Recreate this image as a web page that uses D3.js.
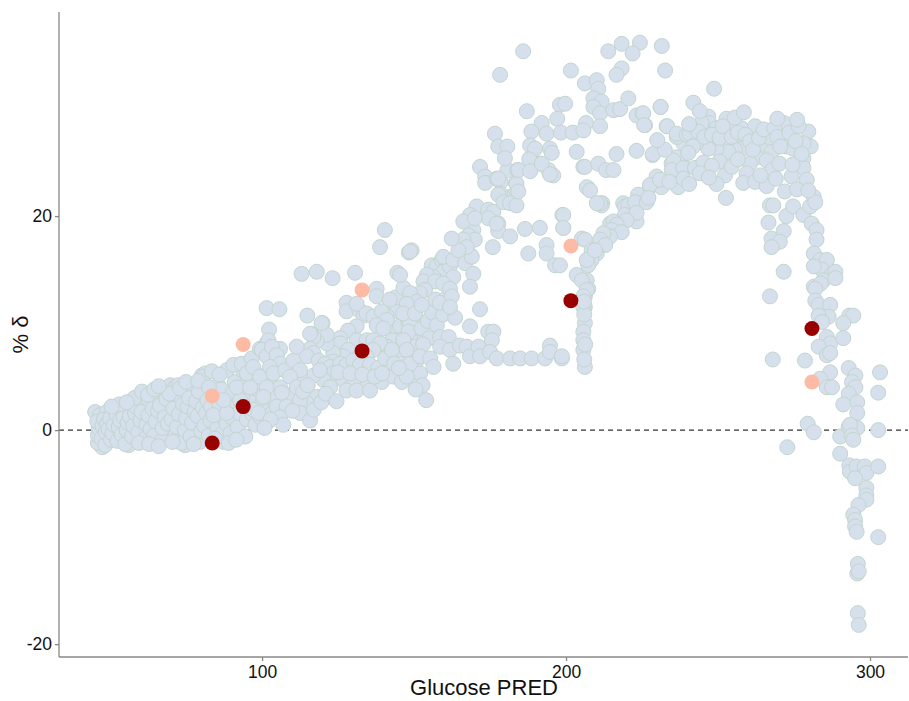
<!DOCTYPE html>
<html lang="en">
<head>
  <meta charset="UTF-8" />
  <title>Glucose PRED vs % delta</title>
  <script src="https://d3js.org/d3.v7.min.js"></script>
  <style>
    body { margin: 0; background: white; font-family: "Liberation Sans", Arial, sans-serif; }
    .axis text { font-size: 17.5px; fill: #111; }
    .axis path, .axis line { stroke: #888; stroke-width: 1.3px; }
  </style>
</head>
<body>
  <svg width="909" height="701"></svg>

  <script>
    // [Glucose PRED, % delta]
    const lowBand = [
      [45.1,1.7],[46.7,1.4],[48.9,1.7],[51.1,1.9],[56.0,2.0],[58.8,1.7],
      [46.8,-1.1],[47.4,-1.6],[56.1,-1.4],[69.8,-0.6],[74.7,-1.4],[79.6,-1.1],[87.3,-1.1],
      [63.2,2.8],[65.4,3.0],[67.6,2.6],[61.0,2.5],[73.6,2.8],[77.4,3.1],
      [69.8,4.2],[71.4,4.0],[72.5,4.2],[80.2,5.1],[81.3,5.3],[76.9,3.9],[85.6,4.2],
      [46,-1.2],[46,-0.5],[46.3,0.2],[45.8,0.8],[47.2,-0.8],[47.5,0.4],[48,1.0],[48.4,-1.4],
      [48.6,-0.2],[49,0.6],[49.5,0.1],[50,1.1],[50.3,-0.9],[50.8,-0.3],[51.2,0.5],[52,1.5],
      [52.4,-1.0],[52.8,0.3],[53.3,0.9],[53.8,-0.4],[54.5,1.2],[55,-1.3],[55.4,0.0],[55.8,0.7],
      [56.5,1.3],[57.2,-0.6],[57.6,0.4],[58.2,1.6],[58.5,2.2],[59.3,-0.2],[60,0.9],[60.4,1.7],
      [61.5,-0.8],[62,0.5],[62.6,1.4],[63.3,0.1],[64,2.0],[64.6,-0.5],[65,0.8],[65.8,1.8],
      [66.4,2.3],[67,-1.0],[67.3,0.2],[68,1.2],[68.5,2.9],[69,0.6],[69.5,3.4],[70.3,1.0],
      [70.8,2.0],[71.5,-0.4],[72,0.3],[72.6,1.5],[73,3.9],[73.4,-1.2],[74,2.4],[74.6,0.0],
      [75,1.1],[75.5,2.2],[76,3.0],[76.5,-0.6],[77,0.7],[77.8,1.7],[78.3,2.7],[78.8,1.3],
      [79.2,3.6],[80,-0.1],[80.5,2.1],[81,0.4],[81.6,1.6],[82,2.8],[82.5,-0.5],[83,0.9],
      [83.2,2.2],[84.5,1.4],[85,3.2],[85.3,0.2],[86,2.4],[86.6,3.8],[87,-0.3],[87.8,1.0],
      [88.3,0.6],[88.8,1.8],[89.2,2.9],[89.6,-0.3],[90,1.2],[90.4,3.5],[91,4.5],[91.5,2.3],
      [92,0.3],[92.5,1.6],[93,2.6],[93.5,4.0],[94.5,-0.6],[95,1.0],[95.3,2.1],[96,3.0],
      [96.8,1.5],[97.4,4.6],[97.8,0.5],[98.2,2.9],[98.6,3.8],[99,1.9],[99.5,1.2],[100,2.5],
      [100.5,4.3],[101,5.1],[101.5,3.4],[102,0.8],[102.4,2.0],[103,3.0],[103.4,1.6],[104,4.0],
      [104.6,5.6],[105,7.2],[84,1.4],[88.4,1.6],[87.3,2.8],[92.8,2.8],[91.7,4.0],[96.1,4.0],
      [97.1,1.9],[98.8,1.6],[93.9,5.5],[88.4,5.6],[90.6,6.1],[93.3,6.2],[96.6,6.7],[99.3,7.6],
      [101.5,8.1],[95,5.3],[97.1,5.9],[99.3,5.0],[80.7,5.0],
      [58,3.0],[60.5,3.6],[62.5,3.3],[64.5,3.8],[66,4.1],[59.5,-1.2],[62.8,-1.3],[66,-1.5],
      [70.5,-1.1],[77.5,-1.3],[84.5,-0.8],[89,-1.2],[91.5,-0.9],[53,2.4],[50.5,2.2],[55.5,2.6],
      [75,4.5],[79,4.6],[83.5,5.5],[86,5.2],[82.5,4.0]
    ];

    const midBand = [
      [138.8,17.1],[149.2,16.8],[148.3,16.6],[113.0,14.6],[118.0,14.8],[123.2,14.2],[130.6,14.7],
      [144.5,14.7],[137.7,13.2],[137.7,12.5],[127.8,11.9],[127.8,11.1],[132.0,11.2],[133.5,10.7],
      [101.5,11.4],[105.7,11.3],[114.9,10.7],[119.9,10.0],[102.3,9.4],[102.1,8.4],[99.9,7.5],
      [105.9,7.6],[116.3,9.0],[148.1,12.0],[145.4,11.5],[143.8,11.1],[141.0,10.7],[139.9,10.1],
      [142.7,9.5],[145.4,9.7],[148.1,10.1],[149.8,9.0],[150.3,10.6],[148.7,8.7],[145.4,8.4],
      [142.7,8.4],[141.0,7.8],[145.4,7.5],[149.8,7.8],[150.9,6.5],[147.6,6.2],[131.1,11.8],
      [134.4,10.9],[136.6,10.6],[139.4,11.1],[141.0,10.3],[137.7,9.8],[139.9,9.5],[131.1,9.7],
      [128.3,9.3],[125.7,8.6],[125.7,8.1],[131.1,8.4],[134.4,8.4],[136.6,8.4],[138.8,8.1],
      [136.6,7.5],[134.4,6.9],[131.1,7.0],[128.3,7.5],[126.7,6.9],[123.4,7.2],[123.4,6.4],
      [121.3,8.1],[121.3,8.9],[118.0,8.3],[116.9,8.7],[115.8,7.6],[116.9,7.2],[114.7,6.9],
      [118.6,6.5],[120.7,6.2],[122.4,5.9],[125.7,6.2],[127.8,6.1],[130.0,6.5],[132.2,6.1],
      [135.5,6.1],[138.2,5.8],[140.5,6.7],[142.7,7.5],[123.4,5.3],[126.7,4.7],[130.0,4.4],
      [134.4,4.0],[139.4,4.5],[143.2,5.0],[148.1,5.0],[150.9,4.7],[120.2,4.7],[116.9,5.1],
      [112.5,5.0],[118.0,3.1],[122.4,4.0],[127.8,3.7],[131.1,3.7],[135.5,3.7],[114.7,2.5],
      [110.3,3.1],[101.5,6.9],[103.2,7.8],[104.8,7.0],[106.0,6.2],[102.6,5.9],[103.7,5.3],
      [107.6,5.6],[110.3,6.5],[112.5,5.6],[109.2,5.0],[105.9,4.0],[103.7,3.1],[109.2,3.3],
      [111.4,4.0],[112.5,2.8],[101.5,4.0],[100.4,3.1],[104.8,2.2],[108.1,2.2],[105.9,1.2],
      [112.5,1.6],[111.4,7.8],[115.8,9.0],[119.6,10.0],[115.8,0.9],[154.0,2.8],[140.4,18.7],
      [107,0.5],[110,1.8],[113.5,3.6],[117,1.9],[119.5,2.6],[121,3.4],[124.5,2.7],[106.5,3.5],
      [102.8,1.0],[100.8,0.2],[115,4.2],[119,5.6],[125,5.4],[129,5.3],[133,5.2],[137,5.0],
      [146,4.5],[152,5.3],[147.6,10.6],[148.7,10.0],[148.2,9.2],[146.5,8.4],[147.6,7.5],
      [148.7,6.2],[147.6,5.0],
      [152.5,9.5],[154.5,10.2],[156,11],[157.5,9.8],[155,8.6],[153,8.0],[157,12.2],[159.5,10.8],
      [160.5,12.3],[163.5,10.5],[158.5,11.9],[144,12.4],[142,12.2],[146.5,13.3],[143.5,6.2],
      [139.5,5.3],[145,5.8],[152.8,4.2],[150.5,3.8]
    ];

    const upperBranch = [
      [155.8,15.4],[157.4,15.3],[159.1,15.9],[160.7,15.6],[159.6,14.8],[161.8,15.3],[162.9,14.3],
      [156.4,14.3],[154.2,14.5],[153.1,13.9],[156.9,13.9],[159.6,13.7],[161.8,13.2],[162.4,12.5],
      [153.6,13.1],[151.9,12.8],[148.7,12.8],[150.9,12.0],[147.6,11.8],[146.4,10.9],[150.3,10.9],
      [152.5,11.7],[145.4,14.5],[159.6,16.2],[162.9,15.9],[168.4,16.4],[166.8,15.6],[169.0,16.2],
      [148.7,16.7],[169.5,18.7],[167.9,18.2],[170.0,17.8],[166.2,17.8],[167.3,17.1],[164.6,16.8],
      [162.4,17.9],[170.6,20.9],[168.4,20.1],[166.2,19.5],[174.4,20.6],[176.1,20.4],[174.4,19.8],
      [177.7,19.3],[177.7,18.6],[181.6,18.1],[175.9,17.1],[169.5,14.6],[168.4,13.4],[161.8,11.5],
      [171.7,11.3],[168.4,9.7],[171.7,24.6],[173.4,23.7],[173.4,23.1],[177.2,23.5],[178.5,23.2],
      [180.7,24.3],[184.0,24.3],[183.5,23.1],[184.0,22.4],[181.6,21.8],[179.4,21.8],[178.3,22.1],
      [188.2,25.4],[191.4,24.9],[194.2,24.3],[195.8,23.8],[186.5,18.8],[191.4,18.9],[199.1,18.9],
      [198.8,20.1],[193.6,17.3],[187.6,16.5],[193.6,16.5],[196.4,15.4],[170.0,19.8],[177.2,19.3],
      [177.7,22.0],[179.4,21.3],[181.6,21.2],[183.7,21.0],[183.7,23.0],[184.3,22.3],[177.7,23.5]
    ];

    const lowRow = [
      [152.0,6.9],[155.3,6.7],[156.4,5.9],[158.6,8.7],[161.4,8.7],[158.6,7.8],[161.8,7.5],
      [162.9,6.2],[165.1,7.9],[167.3,7.8],[168.4,6.9],[171.2,7.8],[171.7,6.9],[174.4,9.2],
      [176.1,9.2],[175.6,8.4],[175.0,7.3],[177.2,6.7],[181.6,6.7],[184.9,6.7],[188.7,6.7],
      [193.1,6.7],[194.7,7.9],[194.7,7.3],[198.6,6.7],[198.6,6.9]
    ];

    const topScatter = [
      [185.9,35.4],[178.3,33.2],[201.6,33.6],[213.9,35.4],[218.3,36.1],[224.3,36.2],[221.9,35.2],
      [231.5,35.9],[232.6,33.6],[206.2,32.4],[210.1,32.7],[210.6,31.9],[218.3,33.8],[216.6,33.2],
      [209.0,31.0],[211.7,30.7],[209.0,30.2],[211.2,29.6],[215.6,29.9],[217.8,30.0],[220.5,31.0],
      [198.0,30.4],[199.7,30.5],[187.1,29.8],[197.1,29.1],[192.0,28.7],[193.6,27.7],[188.6,27.9],
      [198.3,27.8],[202.2,27.8],[206.6,28.7],[211.2,28.4],[223.2,29.4],[225.2,29.6],[226.0,28.5],
      [231.1,30.2],[233.1,28.4],[176.6,27.7],[177.7,26.5],[180.7,26.5],[179.9,25.4],[188.2,26.6],
      [189.8,26.3],[194.7,26.3],[195.3,25.9],[187.9,25.3],[184.3,24.3],[188.2,24.2],[192.0,24.9],
      [194.7,23.9],[205.7,24.6],[207.3,22.6],[206.2,24.6],[210.6,24.9],[213.2,24.3],[215.6,24.3],
      [216.6,25.8],[223.2,26.1],[228.5,25.7],[206.8,22.7],[207.9,22.4],[211.9,21.2],[205.7,28.0],
      [203.5,26.0]
    ];

    const column = [
      [218.8,21.2],[219.9,20.4],[223.2,19.5],[223.7,22.0],[227.6,22.7],[229.8,23.7],[231.4,22.7],
      [234.7,24.9],[236.4,25.5],[238.6,26.8],[239.1,24.5],[236.9,22.7],[236.4,27.4],[216.6,19.2],
      [214.5,19.3],[211.7,21.0],[219.4,20.9],[220.5,21.0],[222.7,21.3],[226.5,21.3],[219.4,20.1],
      [223.2,20.3],[219.9,19.6],[215.6,19.5],[216.7,19.2],[215.0,18.7],[218.3,18.5],[214.5,18.1],
      [212.3,18.4],[211.2,17.8],[212.9,17.3],[209.0,16.8],[210.1,16.5],[208.4,15.9],[207.3,15.4],
      [206.8,14.0],[207.3,13.2],[206.2,12.5],[206.2,11.5],[199.1,20.1],[199.1,18.9],[205.2,17.9],
      [198.0,15.4],[203.5,14.5],[211.2,21.2],[210.1,21.2],[206.2,17.8],[208.4,16.8],[206.8,15.9],
      [209.5,16.8],[205.2,14.0],[206.8,13.1],[205.7,12.5],[205.7,11.5],[206.2,10.0],[205.7,9.2],
      [205.7,8.4],[205.7,7.5],[206.2,5.9],[206.0,6.6],[206.3,8.0],[206.0,10.8],[205.9,12.0]
    ];

    const plateau = [
      [248.7,31.9],[231.1,30.2],[241.9,30.6],[225.4,29.6],[225.7,28.5],[233.3,28.4],[236.4,27.7],
      [239.7,27.6],[240.6,27.7],[246.8,29.3],[247.1,28.7],[244.6,28.7],[249.5,28.2],[252.8,29.1],
      [253.7,28.1],[257.8,28.2],[262.2,28.4],[266.0,27.7],[271.7,28.7],[279.7,27.9],[272.0,27.3],
      [279.7,26.6],[280.5,26.5],[278.1,26.8],[272.5,26.5],[274.7,26.3],[266.9,27.1],[264.3,26.2],
      [267.6,26.0],[262.7,25.5],[266.0,25.2],[267.9,24.3],[270.2,24.9],[274.2,23.7],[278.1,25.4],
      [278.1,24.5],[279.2,23.4],[260.5,24.9],[259.4,24.0],[258.3,23.1],[262.2,23.2],[266.0,22.8],
      [257.2,26.9],[258.3,26.3],[255.6,26.2],[252.3,26.5],[253.4,26.0],[249.5,26.3],[246.2,26.9],
      [246.8,26.3],[242.9,26.8],[241.8,26.5],[240.2,25.9],[235.3,25.2],[234.8,24.3],[238.6,24.5],
      [242.4,24.5],[245.2,25.0],[238.6,23.5],[227.6,22.9],[227.1,21.7],[230.9,23.4],[252.3,23.8],
      [249.5,23.0],[252.6,21.7],[228.6,25.8],[243.5,27.9],[245.5,27.4],[248,27.6],[250.5,27.3],
      [251.5,28.4],[254.5,27.4],[256.5,27.8],[259,27.6],[260.5,27.0],[261.5,26.2],[263.5,27.3],
      [265,28.1],[268.5,28.2],[269.5,27.4],[270.5,26.5],[273.5,27.8],[275.5,27.0],[276.5,28.4],
      [277.5,25.8],[250.5,25.1],[254.5,24.6],[256.5,25.3],[248,24.7],[244,24.0],[247,23.6],
      [264,23.8],[269,23.5],[272,22.3],[276,22.5],[274.5,24.8],[240.5,28.6],[244,29.8],
      [255.5,29.2],[258.5,29.7],[269.5,29.1],[276,29.0],[232.5,26.2],[230.0,27.1],[234.0,23.2],
      [240.5,23.0]
    ];

    const tail = [
      [267.1,21.0],[268.2,21.0],[266.6,19.4],[271.6,18.6],[267.6,17.9],[270.3,17.6],[272.5,20.0],
      [274.7,20.9],[278.1,20.1],[280.3,20.9],[281.5,21.8],[282.0,21.3],[279.7,22.4],[280.8,19.3],
      [282.4,18.7],[282.4,17.8],[281.5,16.5],[283.6,15.9],[285.8,15.9],[284.2,15.0],[281.5,15.3],
      [287.5,14.6],[284.7,14.0],[281.5,13.4],[271.6,14.8],[267.1,12.5],[267.6,17.1],
      [288.6,14.8],[288.6,14.2],[283.8,13.7],[282.0,13.2],[282.0,12.1],[283.1,11.7],[286.9,11.7],
      [286.4,10.6],[283.1,10.7],[284.2,10.1],[293.2,10.7],[294.5,10.7],[291.2,10.0],[285.8,8.7],
      [286.9,8.1],[283.1,7.8],[285.8,7.0],[286.9,7.2],[291.2,8.6],[268.0,6.6],[278.6,6.5],
      [286.9,5.4],[283.6,4.8],[285.8,4.0],[287.5,4.0],[293.0,5.8],[295.2,5.1],[294.1,4.5],
      [295.2,4.0],[293.0,3.4],[295.8,2.6],[291.2,2.4],[295.8,1.6],[303.3,5.4],[302.7,3.5],
      [279.5,0.6],[281.5,-0.2],[290.2,-0.6],[293.0,0.3],[295.8,0.2],[302.7,0.0],[293.4,0.5],
      [294.0,-0.5],[294.5,-0.9],[272.8,-1.6],[290.2,-2.2],[293.2,-3.3],[293.4,-3.9],[295.6,-3.4],
      [298.3,-3.4],[298.8,-4.0],[295.1,-4.5],[302.7,-3.4],[298.8,-5.4],[298.8,-6.1],[298.8,-6.5],
      [296.2,-7.0],[294.5,-7.9],[295.1,-8.4],[295.1,-9.0],[295.6,-9.5],[302.7,-10.0],[296.0,-12.5],
      [295.8,-13.4],[296.3,-13.2],[296.0,-17.1],[296.3,-18.2]
    ];

    // highlighted samples
    const markPred = [83.6, 93.8, 132.9, 201.6, 280.9];
    const markLight = [3.2, 8.0, 13.1, 17.2, 4.5];
    const markDark = [-1.2, 2.2, 7.4, 12.1, 9.5];

    const xTicks = [100, 200, 300];
    const yTicks = [-20, 0, 20];

    const margin = { left: 59, right: 1, top: 12, bottom: 44 };
    const width = 909, height = 701;

    const svg = d3.select("svg");

    const x = d3.scaleLinear().domain([33.2, 312.5]).range([margin.left, width - margin.right]);
    const y = d3.scaleLinear().domain([-21.2, 39.07]).range([height - margin.bottom, margin.top]);

    const allPts = [].concat(lowBand, midBand, upperBranch, lowRow, topScatter, column, plateau, tail);

    // zero reference
    svg.append("line")
      .attr("x1", x(33.2)).attr("x2", x(312.5))
      .attr("y1", y(0)).attr("y2", y(0))
      .attr("stroke", "#333")
      .attr("stroke-width", 1.2)
      .attr("stroke-dasharray", "5,4");

    svg.append("g").selectAll("circle")
      .data(allPts)
      .enter()
      .append("circle")
      .attr("cx", d => x(d[0]))
      .attr("cy", d => y(d[1]))
      .attr("r", 7.5)
      .attr("fill", "#d6dfec")
      .attr("stroke", "#c3d6ce")
      .attr("stroke-width", 1);

    svg.append("g").selectAll("circle")
      .data(markPred.map((p, i) => [p, markLight[i]]))
      .enter()
      .append("circle")
      .attr("cx", d => x(d[0]))
      .attr("cy", d => y(d[1]))
      .attr("r", 7.5)
      .attr("fill", "#fdbba6");

    svg.append("g").selectAll("circle")
      .data(markPred.map((p, i) => [p, markDark[i]]))
      .enter()
      .append("circle")
      .attr("cx", d => x(d[0]))
      .attr("cy", d => y(d[1]))
      .attr("r", 7.5)
      .attr("fill", "#990000");

    const xAxis = svg.append("g")
      .attr("class", "axis")
      .attr("transform", `translate(0,${height - margin.bottom})`)
      .call(d3.axisBottom(x).tickValues(xTicks).tickFormat(d => String(d))
        .tickSize(4).tickPadding(5).tickSizeOuter(0));

    const yAxis = svg.append("g")
      .attr("class", "axis")
      .attr("transform", `translate(${margin.left},0)`)
      .call(d3.axisLeft(y).tickValues(yTicks).tickFormat(d => String(d))
        .tickSize(4).tickPadding(3).tickSizeOuter(0));

    xAxis.select(".domain").attr("d", `M${margin.left},0H${width - margin.right}`);
    yAxis.select(".domain").attr("d", `M0,${margin.top}V${height - margin.bottom}`);

    svg.append("text")
      .attr("x", (margin.left + width) / 2)
      .attr("y", 695)
      .attr("text-anchor", "middle")
      .attr("font-size", "22px")
      .attr("fill", "#111")
      .text("Glucose PRED");

    svg.append("text")
      .attr("transform", `translate(28,${(margin.top + height - margin.bottom) / 2}) rotate(-90)`)
      .attr("text-anchor", "middle")
      .attr("font-size", "22px")
      .attr("fill", "#111")
      .text("% δ");
  </script>
</body>
</html>
